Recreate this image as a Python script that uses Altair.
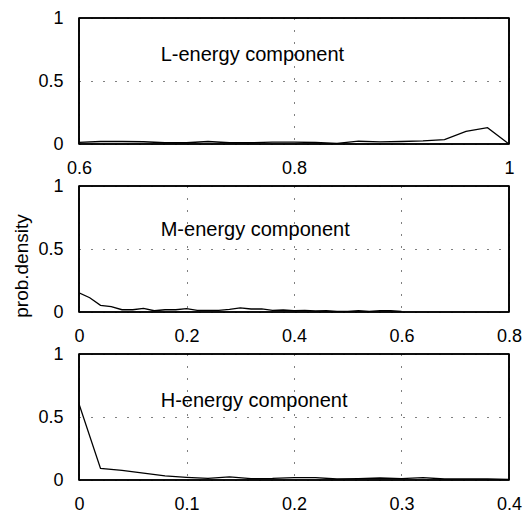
import altair as alt
import pandas as pd

FONT = "Liberation Sans"

# ---- data ----
L_x = [0.6, 0.62, 0.64, 0.66, 0.68, 0.70, 0.72, 0.74, 0.76, 0.78, 0.80,
       0.82, 0.84, 0.86, 0.88, 0.90, 0.92, 0.94, 0.96, 0.98, 1.0]
L_y = [0.013, 0.02, 0.02, 0.018, 0.01, 0.01, 0.02, 0.01, 0.01, 0.015, 0.015,
       0.012, 0.005, 0.022, 0.017, 0.02, 0.025, 0.035, 0.1, 0.13, 0.0]

M_x = [0.0, 0.02, 0.04, 0.06, 0.08, 0.10, 0.12, 0.14, 0.16, 0.18, 0.20,
       0.22, 0.24, 0.26, 0.28, 0.30, 0.32, 0.34, 0.36, 0.38, 0.40,
       0.42, 0.44, 0.46, 0.48, 0.50, 0.52, 0.54, 0.56, 0.58, 0.60]
M_y = [0.153, 0.113, 0.053, 0.042, 0.018, 0.018, 0.029, 0.01, 0.018, 0.018, 0.026,
       0.013, 0.013, 0.013, 0.021, 0.032, 0.024, 0.024, 0.013, 0.016, 0.01,
       0.013, 0.008, 0.01, 0.005, 0.005, 0.01, 0.005, 0.01, 0.01, 0.005]

H_x = [0.0, 0.02, 0.04, 0.06, 0.08, 0.10, 0.12, 0.14, 0.16, 0.18, 0.20,
       0.22, 0.24, 0.26, 0.28, 0.30, 0.32, 0.34, 0.36, 0.38, 0.40]
H_y = [0.604, 0.092, 0.077, 0.055, 0.032, 0.021, 0.013, 0.024, 0.011, 0.013, 0.019,
       0.019, 0.008, 0.011, 0.016, 0.011, 0.019, 0.008, 0.008, 0.008, 0.005]

L_ticks = [0.6, 0.8, 1.0]
M_ticks = [0.0, 0.2, 0.4, 0.6, 0.8]
H_ticks = [0.0, 0.1, 0.2, 0.3, 0.4]
Y_ticks = [0.0, 0.5, 1.0]

labels = ["L-energy component", "M-energy component", "H-energy component"]
label_x = [0.676, 0.152, 0.076]
label_y = [0.66, 0.60, 0.58]
y_title = "prob.density"

W, H = 430, 126


def panel(xs, ys, xdom, xticks, idx, with_title=False):
    df = pd.DataFrame({"x": xs, "y": ys})
    xs_ = alt.Scale(domain=xdom, nice=False, zero=False)
    ys_ = alt.Scale(domain=[0, 1], nice=False)
    xaxis = alt.Axis(values=xticks, grid=True, gridDash=[1, 11], gridColor="black",
                     gridWidth=1, ticks=False, domain=False, labelPadding=15,
                     labelFontSize=18, labelFont=FONT, labelColor="black",
                     labelFlush=False, labelOverlap=False, format="~g", title=None)
    yaxis = alt.Axis(values=Y_ticks, grid=True, gridDash=[1, 11], gridColor="black",
                     gridWidth=1, ticks=False, domain=False, labelPadding=16,
                     labelFontSize=18, labelFont=FONT, labelColor="black",
                     labelFlush=False, labelOverlap=False, format="~g", title=None)
    line = alt.Chart(df).mark_line(color="black", strokeWidth=1.3, clip=True).encode(
        x=alt.X("x:Q", scale=xs_, axis=xaxis),
        y=alt.Y("y:Q", scale=ys_, axis=yaxis),
    )
    # box around the plot area, drawn through the same scales
    a, b = xdom
    edges = pd.DataFrame({
        "x": [a, b, a, a], "x2": [a, b, b, b],
        "y": [0.0, 0.0, 0.0, 1.0], "y2": [1.0, 1.0, 0.0, 1.0],
    })
    box = alt.Chart(edges).mark_rule(color="black", strokeWidth=1.6).encode(
        x=alt.X("x:Q", scale=xs_), x2="x2:Q",
        y=alt.Y("y:Q", scale=ys_), y2="y2:Q",
    )
    tdf = pd.DataFrame({"x": [label_x[idx]], "y": [label_y[idx]], "t": [labels[idx]]})
    txt = alt.Chart(tdf).mark_text(align="left", baseline="alphabetic", fontSize=20,
                                   font=FONT, color="black").encode(
        x=alt.X("x:Q", scale=xs_), y=alt.Y("y:Q", scale=ys_), text="t:N")
    layers = [box, line, txt]
    if with_title:
        ttl = alt.Chart(pd.DataFrame({"t": [y_title]})).mark_text(
            angle=270, align="center", baseline="middle", fontSize=19, font=FONT,
            color="black").encode(x=alt.value(-57), y=alt.value(80), text="t:N")
        layers.append(ttl)
    return alt.layer(*layers).properties(width=W, height=H)


p1 = panel(L_x, L_y, [0.6, 1.0], L_ticks, 0)
p2 = panel(M_x, M_y, [0.0, 0.8], M_ticks, 1, with_title=True)
p3 = panel(H_x, H_y, [0.0, 0.4], H_ticks, 2)

chart = alt.vconcat(p1, p2, p3, spacing=42, bounds="flush").properties(
    padding={"left": 4, "top": 0, "right": 0, "bottom": 0}
).configure(
    background="white",
    view=alt.ViewConfig(stroke="black", strokeWidth=1.6),
)

chart.save("out.html", embed_options={"renderer": "svg", "actions": False})
